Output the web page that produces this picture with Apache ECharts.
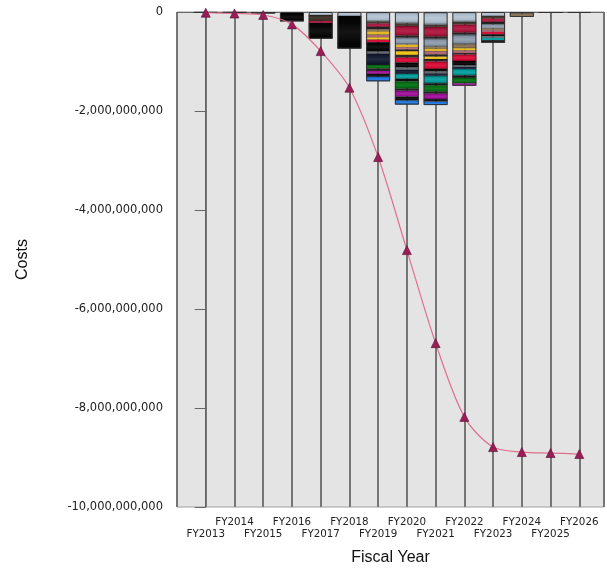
<!DOCTYPE html>
<html>
<head>
<meta charset="utf-8">
<script src="https://cdn.jsdelivr.net/npm/echarts@6/dist/echarts.min.js"></script>
<style>html,body{margin:0;padding:0;background:#fff;}#c{width:607px;height:568px;}</style>
</head>
<body>
<div id="c"></div>
<script>
// Categories (fiscal years)
const categories = ['FY2013','FY2014','FY2015','FY2016','FY2017','FY2018','FY2019','FY2020','FY2021','FY2022','FY2023','FY2024','FY2025','FY2026'];
// Y tick values
const yTicks = [0, -2e9, -4e9, -6e9, -8e9, -10e9];

// Stacked cost segments (billions), listed top to bottom of each bar
const segA = [0,     0,     0,    0.02, 0.06, 0.08, 0.19, 0.23, 0.26, 0.20, 0.08, 0,    0,    0];
const segB = [0,     0,     0,    0,    0.12, 0,    0.04, 0.05, 0.04, 0.05, 0.05, 0.03, 0,    0];
const segC = [0,     0,     0,    0,    0.04, 0,    0.07, 0.20, 0.20, 0.17, 0.07, 0,    0,    0];
const segD = [0,     0,     0,    0,    0,    0,    0.05, 0.04, 0.04, 0.04, 0.05, 0,    0,    0];
const segE = [0,     0,     0,    0,    0,    0,    0,    0.13, 0.16, 0.19, 0.08, 0,    0,    0];
const segF = [0,     0,     0,    0,    0,    0,    0.04, 0.01, 0.04, 0.08, 0.04, 0.07, 0,    0];
const segG = [0,     0,     0,    0,    0,    0,    0.07, 0.05, 0.05, 0.05, 0,    0,    0,    0];
const segH = [0,     0,     0,    0,    0,    0,    0.05, 0.05, 0.07, 0.05, 0.03, 0,    0,    0];
const segI = [0,     0,     0,    0,    0,    0,    0,    0.03, 0.04, 0.03, 0,    0,    0,    0];
const segJ = [0,     0,     0,    0,    0,    0,    0.05, 0.08, 0.05, 0,    0,    0,    0,    0];
const segK = [0,     0,     0,    0,    0,    0,    0,    0.05, 0.05, 0,    0,    0,    0,    0];
const segL = [0,     0,     0,    0,    0,    0,    0.05, 0.10, 0.15, 0.13, 0.05, 0,    0,    0];
const segM = [0.015, 0.015, 0.03, 0.17, 0.32, 0.66, 0.19, 0.10, 0.05, 0.09, 0.04, 0,    0.02, 0];
const segN = [0,     0,     0,    0,    0,    0,    0.04, 0.05, 0.04, 0.03, 0.03, 0,    0,    0.02];
const segO = [0,     0,     0,    0,    0,    0,    0.23, 0.08, 0.05, 0.04, 0,    0,    0,    0];
const segP = [0,     0,     0,    0,    0,    0,    0,    0.10, 0.15, 0.13, 0.05, 0,    0,    0];
const segQ = [0,     0,     0,    0,    0,    0,    0,    0.05, 0.04, 0.05, 0.05, 0,    0,    0];
const segR = [0,     0,     0,    0,    0,    0,    0.07, 0.15, 0.13, 0.11, 0,    0,    0,    0];
const segS = [0,     0,     0,    0,    0,    0,    0.05, 0.04, 0.04, 0,    0,    0,    0,    0];
const segT = [0,     0,     0,    0,    0,    0,    0.06, 0.12, 0.11, 0.05, 0,    0,    0,    0];
const segU = [0,     0,     0,    0,    0,    0,    0.06, 0.08, 0.05, 0,    0,    0,    0,    0];
const segV = [0,     0,     0,    0,    0,    0,    0.09, 0.08, 0.07, 0,    0,    0,    0,    0];

// Cumulative cost line (billions)
const cumulative = [-0.015, -0.03, -0.06, -0.25, -0.79, -1.53, -2.93, -4.81, -6.69, -8.18, -8.79, -8.89, -8.91, -8.93];

const segments = [
  {name:'A', data:segA, color:'#b4c4d4'},
  {name:'B', data:segB, color:'#3c3428'},
  {name:'C', data:segC, color:'#b0163e'},
  {name:'D', data:segD, color:'#1e1e1e'},
  {name:'E', data:segE, color:'#8e9db0'},
  {name:'F', data:segF, color:'#8c7456'},
  {name:'G', data:segG, color:'#e8bc20'},
  {name:'H', data:segH, color:'#b06878'},
  {name:'I', data:segI, color:'#1c1a1a'},
  {name:'J', data:segJ, color:'#f4c418'},
  {name:'K', data:segK, color:'#222222'},
  {name:'L', data:segL, color:'#dc0c38'},
  {name:'M', data:segM, color:'#060606'},
  {name:'N', data:segN, color:'#5c646c'},
  {name:'O', data:segO, color:'#141c34'},
  {name:'P', data:segP, color:'#04a0a0'},
  {name:'Q', data:segQ, color:'#0a0a0a'},
  {name:'R', data:segR, color:'#047214'},
  {name:'S', data:segS, color:'#181818'},
  {name:'T', data:segT, color:'#a4109e'},
  {name:'U', data:segU, color:'#0c0c0c'},
  {name:'V', data:segV, color:'#1c78e4'}
];

function shade(hex, f) {
  const n = parseInt(hex.slice(1), 16);
  let r = (n >> 16) & 255, g = (n >> 8) & 255, b = n & 255;
  if (f >= 1) {
    const t = f - 1;
    r = r + (255 - r) * t; g = g + (255 - g) * t; b = b + (255 - b) * t;
  } else {
    r *= f; g *= f; b *= f;
  }
  return 'rgb(' + Math.round(r) + ',' + Math.round(g) + ',' + Math.round(b) + ')';
}
function gloss(hex) {
  return new echarts.graphic.LinearGradient(0, 0, 0, 1, [
    {offset: 0, color: shade(hex, 0.55)},
    {offset: 0.2, color: shade(hex, 0.95)},
    {offset: 0.5, color: shade(hex, 1.06)},
    {offset: 0.8, color: shade(hex, 0.95)},
    {offset: 1, color: shade(hex, 0.5)}
  ]);
}

const B = 1e9;
// data as [value, index] so the stacked dimension is the value (y)
const series = segments.map(s => ({
  name: s.name,
  type: 'bar',
  stack: 'cost',
  barWidth: 24,
  encode: {x: 1, y: 0},
  itemStyle: {color: gloss(s.color)},
  data: s.data.map((v, i) => [-v * B, i]),
  z: 2
}));

const totals = categories.map((c, i) => segments.reduce((acc, s) => acc + s.data[i], 0));
series.push({
  name: 'outline',
  type: 'bar',
  barWidth: 24,
  barGap: '-100%',
  encode: {x: 1, y: 0},
  itemStyle: {color: 'rgba(0,0,0,0)', borderColor: '#333333', borderWidth: 1},
  data: totals.map((v, i) => [-v * B, i]),
  z: 3,
  silent: true
});
series.push({
  name: 'Cumulative',
  type: 'line',
  smooth: 0.3,
  data: cumulative.map((v, i) => [i, v * B]),
  lineStyle: {color: '#e0708e', width: 1.2},
  symbol: 'triangle',
  symbolSize: 9,
  itemStyle: {color: '#9a1e56', borderColor: '#5a0c32', borderWidth: 0.6},
  z: 5
});

const chart = echarts.init(document.getElementById('c'), null, {renderer: 'canvas'});
chart.setOption({
  animation: false,
  backgroundColor: '#ffffff',
  textStyle: {fontFamily: 'DejaVu Sans, sans-serif'},
  grid: {left: 177, top: 12, right: 3, bottom: 61, outerBoundsMode: 'none', containLabel: false, show: true, backgroundColor: '#e4e4e4', borderColor: '#a0a0a0', borderWidth: 1},
  xAxis: {
    type: 'value',
    min: -1,
    max: 13.86,
    interval: 1,
    name: 'Fiscal Year',
    nameLocation: 'middle',
    nameGap: 43,
    nameTextStyle: {fontSize: 16, color: '#111', fontFamily: 'Liberation Sans, Arial, sans-serif'},
    axisLine: {show: true, lineStyle: {color: '#666', width: 1}},
    axisTick: {show: true, length: 6, lineStyle: {color: '#666'}},
    splitLine: {show: true, lineStyle: {color: '#767676', width: 2}},
    axisLabel: {
      fontSize: 10.3,
      color: '#222',
      lineHeight: 12,
      margin: 9,
      showMinLabel: false,
      showMaxLabel: false,
      formatter: function (v) {
        const i = Math.round(v);
        if (Math.abs(v - i) > 1e-6 || i < 0 || i >= categories.length) return '';
        return (i % 2 === 0 ? '\n' : '') + categories[i];
      }
    }
  },
  yAxis: {
    type: 'value',
    min: yTicks[yTicks.length - 1],
    max: yTicks[0],
    interval: 2e9,
    name: 'Costs',
    nameLocation: 'middle',
    nameGap: 146,
    nameRotate: 90,
    nameTextStyle: {fontSize: 16, color: '#111', fontFamily: 'Liberation Sans, Arial, sans-serif'},
    axisLine: {show: true, lineStyle: {color: '#666', width: 1}},
    axisTick: {show: true, length: 11, lineStyle: {color: '#666'}},
    splitLine: {show: false},
    axisLabel: {
      fontSize: 11.5,
      color: '#222',
      margin: 14,
      formatter: function (v) { return Math.round(v).toLocaleString('en-US'); }
    }
  },
  series: series
});
</script>
</body>
</html>
